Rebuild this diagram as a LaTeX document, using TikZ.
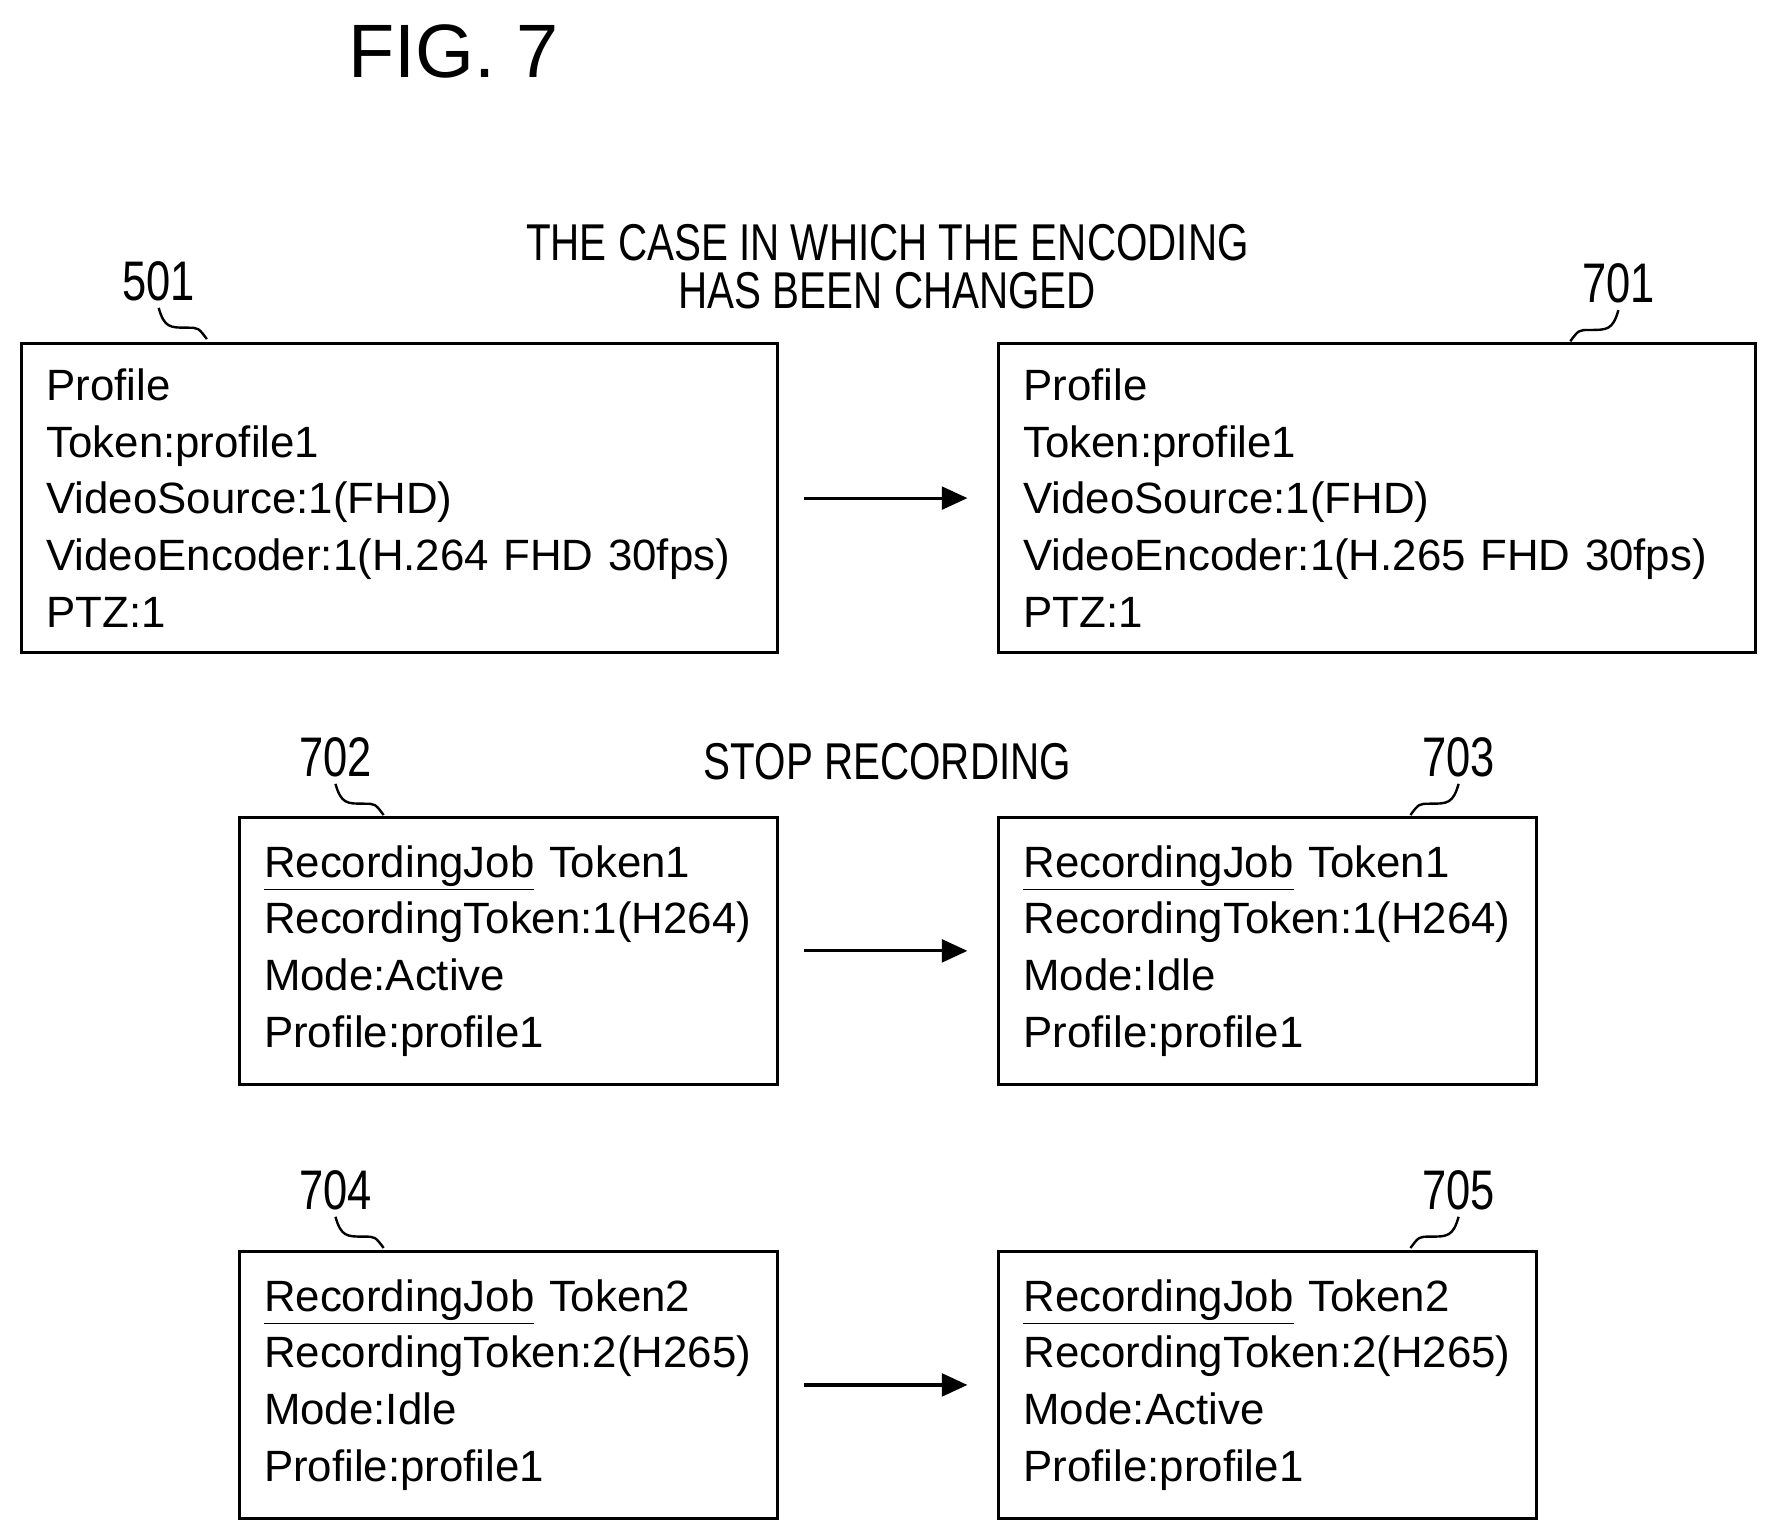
\documentclass[tikz,border=0pt]{standalone}
\usepackage{fontspec}
\setmainfont{Liberation Sans}
\newfontfamily\condfont[FakeStretch=0.78]{Liberation Sans}
\usetikzlibrary{positioning,arrows.meta}

\begin{document}
\begin{tikzpicture}[
    box/.style={draw, line width=1.6pt, align=left, inner xsep=0.44cm, font=\fontsize{22}{28.5}\selectfont},
    refnum/.style={font=\condfont\fontsize{28}{30}\selectfont},
    headtxt/.style={font=\condfont\fontsize{26}{24}\selectfont, align=center},
    flow/.style={-{Triangle[length=0.45cm,width=0.4cm]}, line width=1.6pt},
    squig/.style={line width=1.2pt}
]
    \useasboundingbox (0,0) rectangle (31.2,-27.04);

    % title and headings
    \node[font=\fontsize{38}{40}\selectfont] (title) at (8.0,-0.9) {FIG. 7};
    \node[headtxt] (headenc) at (15.66,-4.7) {THE CASE IN WHICH THE ENCODING\\HAS BEEN CHANGED};
    \node[headtxt] (headrec) at (15.66,-13.44) {STOP RECORDING};

    % profile boxes
    \node[box, minimum width=13.34cm, minimum height=5.46cm, text width=12.46cm] (b501) at (7.05,-8.79)
        {Profile\\Token:profile1\\VideoSource:1(FHD)\\VideoEncoder:1(H.264 FHD 30fps)\\PTZ:1};
    \node[box, minimum width=13.36cm, minimum height=5.46cm, text width=12.48cm] (b701) at (24.3,-8.79)
        {Profile\\Token:profile1\\VideoSource:1(FHD)\\VideoEncoder:1(H.265 FHD 30fps)\\PTZ:1};

    % recording job boxes
    \node[box, minimum width=9.5cm, minimum height=4.72cm, text width=8.62cm] (b702) at (8.97,-16.78)
        {\underline{RecordingJob} Token1\\RecordingToken:1(H264)\\Mode:Active\\Profile:profile1};
    \node[box, minimum width=9.5cm, minimum height=4.72cm, text width=8.62cm] (b703) at (22.37,-16.78)
        {\underline{RecordingJob} Token1\\RecordingToken:1(H264)\\Mode:Idle\\Profile:profile1};
    \node[box, minimum width=9.5cm, minimum height=4.72cm, text width=8.62cm] (b704) at (8.97,-24.44)
        {\underline{RecordingJob} Token2\\RecordingToken:2(H265)\\Mode:Idle\\Profile:profile1};
    \node[box, minimum width=9.5cm, minimum height=4.72cm, text width=8.62cm] (b705) at (22.37,-24.44)
        {\underline{RecordingJob} Token2\\RecordingToken:2(H265)\\Mode:Active\\Profile:profile1};

    % arrows
    \draw[flow] ([xshift=0.44cm]b501.east) -- ([xshift=-0.52cm]b701.west);
    \draw[flow] ([xshift=0.44cm]b702.east) -- ([xshift=-0.52cm]b703.west);
    \draw[flow] ([xshift=0.44cm]b704.east) -- ([xshift=-0.52cm]b705.west);

    % reference numbers
    \node[refnum] (l501) at (2.8,-4.96) {501};
    \node[refnum] (l701) at (28.56,-5.0) {701};
    \node[refnum] (l702) at (5.92,-13.36) {702};
    \node[refnum] (l703) at (25.74,-13.36) {703};
    \node[refnum] (l704) at (5.92,-21.0) {704};
    \node[refnum] (l705) at (25.74,-21.0) {705};

    \draw[squig] (l501.south) .. controls +(0.1,-0.35) and +(-0.3,0) .. ++(0.5,-0.35) .. controls +(0.2,0) .. ++(0.35,-0.2);
    \draw[squig] (l701.south) .. controls +(-0.1,-0.35) and +(0.3,0) .. ++(-0.5,-0.35) .. controls +(-0.2,0) .. ++(-0.35,-0.2);
    \draw[squig] (l702.south) .. controls +(0.1,-0.35) and +(-0.3,0) .. ++(0.5,-0.35) .. controls +(0.2,0) .. ++(0.35,-0.2);
    \draw[squig] (l703.south) .. controls +(-0.1,-0.35) and +(0.3,0) .. ++(-0.5,-0.35) .. controls +(-0.2,0) .. ++(-0.35,-0.2);
    \draw[squig] (l704.south) .. controls +(0.1,-0.35) and +(-0.3,0) .. ++(0.5,-0.35) .. controls +(0.2,0) .. ++(0.35,-0.2);
    \draw[squig] (l705.south) .. controls +(-0.1,-0.35) and +(0.3,0) .. ++(-0.5,-0.35) .. controls +(-0.2,0) .. ++(-0.35,-0.2);
\end{tikzpicture}
\end{document}
